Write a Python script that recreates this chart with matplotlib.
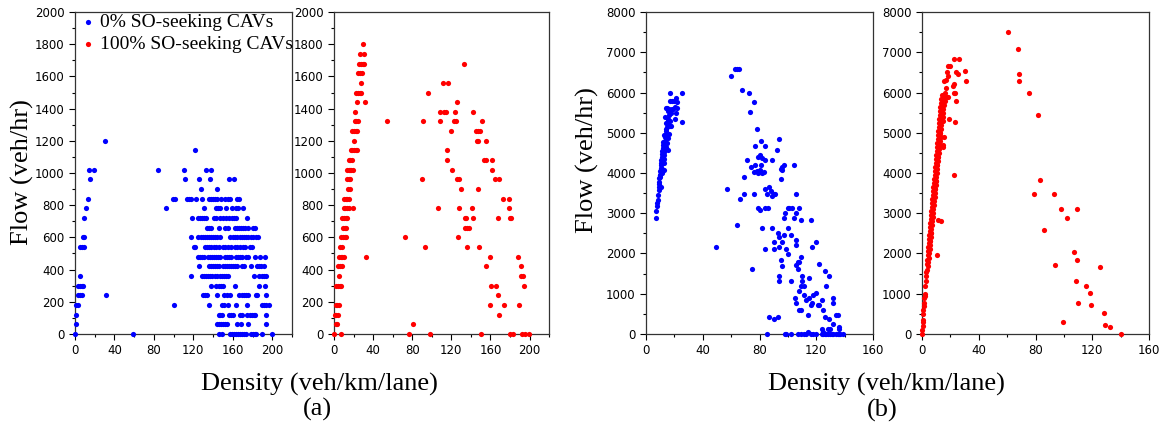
import matplotlib.pyplot as plt
from matplotlib.ticker import MultipleLocator

BLUE = '#0000ff'
RED = '#ff0000'

# (a) flow level (veh/hr) -> densities (veh/km/lane) of the points on that level
a0_rows = {
    0: [0, 59, 146, 149, 157, 159, 161, 163, 165, 167, 169, 171, 173, 178, 180, 182, 184, 190, 200],
    60: [0.7, 144, 146, 148, 150, 152, 154, 164, 168, 175, 194],
    120: [1.4, 146, 147, 149, 156, 158, 160, 167, 169, 174, 177, 179, 181, 183, 194],
    180: [1.4, 3, 100, 136, 149, 151, 155, 163, 174, 190, 192, 194, 197],
    240: [3, 5, 7, 31, 130, 132, 134, 144, 151, 154, 157, 166, 169, 171, 173, 175, 184, 185, 194],
    300: [3, 5, 7, 8, 138, 143, 146, 148, 150, 162, 187, 193],
    360: [5.5, 118, 129, 131, 133, 135, 137, 139, 142, 144, 147, 149, 151, 153, 155, 181, 187, 190, 192, 194],
    420: [126, 136, 138, 140, 142, 144, 146, 150, 152, 154, 156, 158, 160, 162, 164, 169, 171, 178, 185, 187, 189, 192],
    480: [125, 127, 129, 131, 135, 137, 139, 141, 143, 145, 147, 152, 154, 156, 158, 163, 165, 167, 169, 173, 175, 182, 188, 193],
    540: [5, 7.5, 9.5, 121, 122, 132, 134, 136, 138, 141, 143, 146, 150, 152, 155, 158, 162, 164, 167, 170, 172, 177, 179],
    600: [8.5, 9.5, 118, 125, 128, 130, 132, 134, 136, 138, 140, 142, 144, 147, 157, 160, 162, 164, 167, 169, 171, 173, 175, 178, 180, 184, 186],
    660: [134, 136, 138, 146, 152, 155, 162, 164, 166, 168, 170, 172, 175, 180, 182],
    720: [9.6, 119, 125, 127, 129, 131, 133, 141, 143, 147, 150, 153, 156, 159, 161, 163, 174],
    780: [11, 92, 131, 143, 145, 147, 153, 159, 163, 165, 170],
    840: [13.3, 99, 101, 114, 116, 118, 123, 129, 136, 138, 140, 142, 144, 148, 152, 155, 157, 164, 166],
    900: [128, 144],
    960: [15.7, 112, 126, 137, 156, 161],
    1020: [14.4, 19.5, 84, 111, 133, 138],
    1140: [122],
    1200: [30],
}

a100_rows = {
    0: [0, 6.8, 77, 98, 150.4, 180.5, 183, 192, 195, 199.3],
    60: [1.7, 3.4, 81],
    120: [0.7, 2.4, 4.1, 168.5],
    180: [1.7, 3.1, 5.1, 160, 174, 189],
    240: [168],
    300: [2.4, 4.1, 5.8, 6.8, 161, 166, 194],
    360: [5.1, 191, 193],
    420: [4.1, 5.8, 7.9, 155, 191.5],
    480: [5.1, 6.8, 8.5, 10.3, 33, 159.3, 188],
    540: [5.8, 8.2, 93, 136, 148.7],
    600: [7.5, 9.2, 10.9, 12.6, 72.5, 127],
    660: [9.2, 10.9, 12.6, 134.4, 136.4, 138.5],
    720: [8.5, 10.3, 12, 13.7, 133.7, 135, 142.6, 168, 180, 181],
    780: [9.9, 11.6, 13.7, 15.4, 19.1, 106, 127.5, 141, 179.5],
    840: [10.3, 12, 13.7, 15.4, 172.6, 178.8],
    900: [14.4, 16.1, 130, 147],
    960: [13.7, 15, 16.8, 90, 126, 127.5, 164.8, 169],
    1020: [13.7, 15, 16.8, 17.8, 19.1, 121, 161.7],
    1080: [15, 16.8, 18.8, 116, 153, 155.6, 161.4],
    1140: [17.1, 18.8, 20.5, 22.2, 23.6, 116],
    1200: [20.2, 146, 147.7, 155],
    1260: [18.8, 20.5, 22.2, 23.9, 120, 145.3, 147, 149.4],
    1320: [21.2, 22.9, 24.6, 54, 91, 108, 123, 124.5, 151.5],
    1380: [21.5, 108, 113, 114.5, 123.4, 142],
    1440: [23.9, 31.5, 125.5],
    1500: [22.9, 24.6, 26.3, 28, 96.4],
    1560: [27.7, 111.5, 117],
    1620: [24.6, 26.3, 29],
    1680: [26, 28, 29.5, 31, 132.6],
    1740: [26.3, 30.4],
    1800: [29.7],
}

# (b) (density, flow) points
b0_points = [
    (6.8, 2880), (7.0, 3060), (7.5, 3180), (7.9, 3250), (8.2, 3340), (8.6, 3460), (8.9, 3580),
    (9.0, 3660), (9.2, 3720), (9.1, 3770), (9.4, 3880), (9.6, 3960), (9.8, 3900), (10.0, 3950),
    (10.2, 4060), (10.4, 4120), (10.6, 4200), (10.7, 4250), (10.9, 4330), (11.0, 4400), (11.3, 4460),
    (11.5, 4540), (11.7, 4620), (12.0, 4700), (12.1, 4760), (11.6, 4100), (12.4, 4080), (12.7, 4250),
    (12.6, 4440), (13.0, 4520), (13.3, 4600), (13.5, 4700), (13.4, 4800), (13.8, 4880), (14.1, 4950),
    (14.4, 5050), (14.6, 5150), (14.9, 5240), (15.2, 5350), (14.4, 5620), (15.1, 5620), (16.0, 5600),
    (16.5, 5450), (15.8, 5300), (16.9, 5160), (17.6, 5160), (17.4, 5500), (18.2, 5600), (18.8, 5580),
    (16.2, 4980), (15.6, 4880), (15.2, 4560), (14.2, 4650), (13.0, 4350), (16.9, 5800), (16.9, 5990),
    (18.5, 5800), (20.4, 5640), (21.6, 5620), (21.1, 5490), (20.6, 5340), (21.3, 5860), (22.0, 5770),
    (25.3, 6000), (25.1, 5270), (13.2, 4900), (14.0, 5250), (12.8, 4950), (15.5, 5550), (19.6, 5800),
    (17.0, 5300), (13.6, 5400), (14.2, 5100), (15.0, 4750), (12.0, 4300), (11.2, 4000), (10.5, 3650),
    (59.6, 6400), (62.9, 6590), (64.0, 6590), (65.2, 6590), (68.0, 6050), (72.5, 5990), (76.0, 5760),
    (73.4, 5510), (78, 5090), (81, 4800), (84, 4680), (93.5, 4850), (77, 4680), (77, 4200), (79, 4400),
    (80, 4450), (82, 4380), (84, 4320), (81, 4200), (78, 4050), (79, 4000), (80, 4080), (82, 4000),
    (83, 4020), (74, 4150), (76, 4020), (71.5, 4320), (69, 3900), (89, 4320), (92, 4560), (95, 4100),
    (96, 4080), (97, 4200), (96, 4150), (95, 3850), (104, 4200),
    (57, 3600), (66, 3360), (69, 3480), (76, 3480), (84, 3600), (87, 3650), (85, 3480), (88, 3550),
    (89, 3420), (90, 3480), (91, 3480), (79, 3120), (80, 3080), (84, 3120), (86, 3120), (97, 2880),
    (98, 3000), (100, 3120), (101, 3120), (103, 3120), (104, 2880), (106, 3000), (106, 3480), (108, 3120),
    (109, 2820),
    (64, 2700), (82, 2640), (89, 2640), (84, 2100), (90, 2280), (90, 2100), (93, 2520), (94, 2400),
    (94, 2160), (96, 2280), (97, 2460), (99, 2100), (100, 1980), (100, 2640), (102, 2460), (106, 2340),
    (106, 2220), (108, 1800), (107, 1780), (106, 1720), (109, 1920), (116, 2820), (117, 2160), (120, 2280),
    (49, 2160),
    (75, 1620), (95, 1850), (96, 1680), (94, 1440), (94, 1320), (102, 1320), (107, 1620), (110, 1440),
    (110, 1320), (109, 1200), (111, 1200), (108, 1080), (115, 1380), (122, 1740), (126, 1560), (129, 1440),
    (127, 1200),
    (87, 420), (90, 360), (93, 420), (105, 900), (106, 780), (108, 600), (109, 600), (111, 960), (113, 840),
    (115, 900), (114, 480), (116, 720), (117, 780), (118, 960), (120, 1020), (121, 720), (122, 720),
    (124, 840), (125, 600), (126, 420), (128, 120), (129, 360), (130, 120), (132, 780), (132, 900),
    (132, 240), (134, 480), (135, 480), (136, 120), (136, 180), (124, 120), (125, 60),
    (85, 0), (98, 0), (99, 0), (102, 0), (107, 0), (109, 0), (111, 0), (113, 0), (114, 50), (116, 0),
    (118, 0), (120, 0), (124, 0), (125, 0), (126, 0), (127, 0), (128, 0), (130, 0), (131, 0), (132, 0),
    (134, 0), (135, 0), (136, 0), (137, 0), (139, 0),
]

b100_points = [
    (0.2, 0), (0.3, 100), (0.4, 200), (0.5, 300), (0.6, 350), (0.8, 500), (1.0, 600), (1.2, 700),
    (1.4, 780), (1.6, 900), (1.8, 950), (2.0, 1000), (2.2, 1200), (2.5, 1320), (2.8, 1440), (3.0, 1550),
    (3.3, 1600), (3.6, 1750), (3.8, 1850), (4.0, 1950), (4.3, 2050), (4.5, 2150), (4.7, 2250),
    (5.0, 2350), (5.2, 2450), (5.4, 2550), (5.6, 2650), (5.9, 2750), (6.1, 2850), (6.3, 2950),
    (6.5, 3050), (6.8, 3150), (7.0, 3250), (7.3, 3350), (7.5, 3450), (7.8, 3550), (8.0, 3650),
    (8.3, 3750), (8.5, 3850), (8.8, 3950), (9.0, 4050), (9.3, 4150), (9.5, 4250), (9.8, 4350),
    (10.0, 4450), (10.3, 4550), (10.5, 4650), (10.8, 4750), (11.0, 4850), (11.3, 4950), (11.5, 5050),
    (11.8, 5150), (12.0, 5250), (12.3, 5350), (12.5, 5450), (12.8, 5550), (13.0, 5650), (13.3, 5750),
    (13.6, 5850), (14.0, 5950),
    (4.2, 1700), (4.6, 1900), (5.0, 2000), (5.3, 2100), (5.6, 2200), (5.8, 2300), (6.1, 2400),
    (6.4, 2500), (6.6, 2600), (6.9, 2700), (7.2, 2800), (7.4, 2900), (7.7, 3000), (8.0, 3100),
    (8.2, 3200), (8.5, 3300), (8.8, 3400), (9.0, 3500), (9.3, 3600), (9.6, 3700), (9.8, 3800),
    (10.1, 3900), (10.4, 4000), (10.6, 4100), (10.9, 4200), (11.2, 4300), (11.4, 4400), (11.7, 4500),
    (12.0, 4600), (12.2, 4700), (12.5, 4800), (12.8, 4900), (13.0, 5000), (13.3, 5100), (13.6, 5200),
    (13.8, 5300), (14.1, 5400), (14.4, 5500), (14.6, 5600), (14.9, 5700), (15.2, 5800), (15.4, 5900),
    (4.5, 1800), (5.5, 2300), (6.0, 2500), (7.0, 2900), (8.0, 3300),
    (9.0, 3600), (10.0, 3800), (10.5, 4200), (11.5, 4400), (12.5, 4700), (13.0, 5000), (13.5, 4900),
    (14.5, 5300), (15.0, 5500), (15.5, 5700), (15.5, 5900), (16.0, 6000), (16.5, 5800), (17.0, 6100),
    (17.6, 6520), (18.3, 6400), (17.2, 6320), (15.3, 6290), (18.3, 6650), (19.5, 6650), (21.9, 6150),
    (22.8, 6210), (24.2, 6510), (25.6, 6470), (22.8, 6830), (26.1, 6830), (30.3, 6530), (30.8, 6290),
    (24.2, 5800), (23.0, 5270), (19.0, 5330), (22.6, 3950), (15.5, 4900), (11.3, 2820), (13.6, 2800),
    (10.6, 1970), (22.5, 6000), (23.5, 6000), (17.5, 5900), (18.5, 5900), (14.5, 4650), (15.0, 4700),
    (13.5, 5300), (14.5, 5400),
    (60.9, 7500), (67.4, 7070), (68.6, 6470), (68.4, 6290), (75.2, 5990), (82.0, 5450), (83.4, 3830),
    (79.2, 3470), (93.3, 3470), (98.0, 3110), (109.5, 3110), (102.2, 2870), (86.2, 2580), (107.1, 2030),
    (109.3, 1850), (93.5, 1720), (125.7, 1670), (108.6, 1310), (115.8, 1190), (118.2, 1010), (110.0, 770),
    (119.4, 710), (128.5, 530), (99.6, 290), (129.2, 230), (132.3, 170), (140.0, 0),
]

a_xticks = [0, 40, 80, 120, 160, 200]
b_xticks = [0, 40, 80, 120, 160]

plt.rcParams['font.family'] = 'DejaVu Sans'
SERIF = 'Liberation Serif'

fig = plt.figure(figsize=(11.75, 4.32), dpi=100)

panels = [
    ([0.0638, 0.2269, 0.1847, 0.7453], a0_rows, BLUE, 220, a_xticks, 2000, 200, 100),
    ([0.2843, 0.2269, 0.1830, 0.7453], a100_rows, RED, 220, a_xticks, 2000, 200, 100),
    ([0.5498, 0.2269, 0.1932, 0.7453], b0_points, BLUE, 160, b_xticks, 8000, 1000, 500),
    ([0.7847, 0.2269, 0.1932, 0.7453], b100_points, RED, 160, b_xticks, 8000, 1000, 500),
]

axes = []
for rect, data, color, xmax, xticks, ymax, ymaj, ymin in panels:
    ax = fig.add_axes(rect)
    if isinstance(data, dict):
        xs = [d for f, row in data.items() for d in row]
        ys = [f for f, row in data.items() for d in row]
    else:
        xs = [p[0] for p in data]
        ys = [p[1] for p in data]
    ax.scatter(xs, ys, s=14, color=color, linewidths=0, clip_on=False, zorder=3)
    ax.set_xlim(0, xmax)
    ax.set_ylim(0, ymax)
    ax.set_xticks(xticks)
    ax.xaxis.set_minor_locator(MultipleLocator(20))
    ax.yaxis.set_major_locator(MultipleLocator(ymaj))
    ax.yaxis.set_minor_locator(MultipleLocator(ymin))
    ax.tick_params(which='both', direction='out', top=False, right=False,
                   labelsize=8.5, width=0.8)
    ax.tick_params(which='major', length=4)
    ax.tick_params(which='minor', length=2.5)
    for sp in ax.spines.values():
        sp.set_linewidth(0.9)
        sp.set_color('#333333')
    axes.append(ax)

# legend built from the two series colours
h0 = axes[0].scatter([], [], s=14, color=BLUE, linewidths=0)
h1 = axes[0].scatter([], [], s=14, color=RED, linewidths=0)
leg = axes[0].legend([h0, h1], ['0% SO-seeking CAVs', '100% SO-seeking CAVs'],
                     loc='upper left', bbox_to_anchor=(-0.02, 1.02), frameon=False,
                     handletextpad=0.1, borderaxespad=0.0, labelspacing=0.25,
                     prop={'family': SERIF, 'size': 14}, handlelength=1.0)
leg.set_zorder(10)

fig.text(0.0187, 0.602, 'Flow (veh/hr)', rotation=90, ha='center', va='center',
         family=SERIF, fontsize=19)
fig.text(0.4996, 0.630, 'Flow (veh/hr)', rotation=90, ha='center', va='center',
         family=SERIF, fontsize=19)
fig.text(0.272, 0.109, 'Density (veh/km/lane)', ha='center', va='center',
         family=SERIF, fontsize=19)
fig.text(0.754, 0.109, 'Density (veh/km/lane)', ha='center', va='center',
         family=SERIF, fontsize=19)
fig.text(0.270, 0.053, '(a)', ha='center', va='center', family=SERIF, fontsize=19)
fig.text(0.751, 0.051, '(b)', ha='center', va='center', family=SERIF, fontsize=19)

fig.savefig('out.png', dpi=100)
